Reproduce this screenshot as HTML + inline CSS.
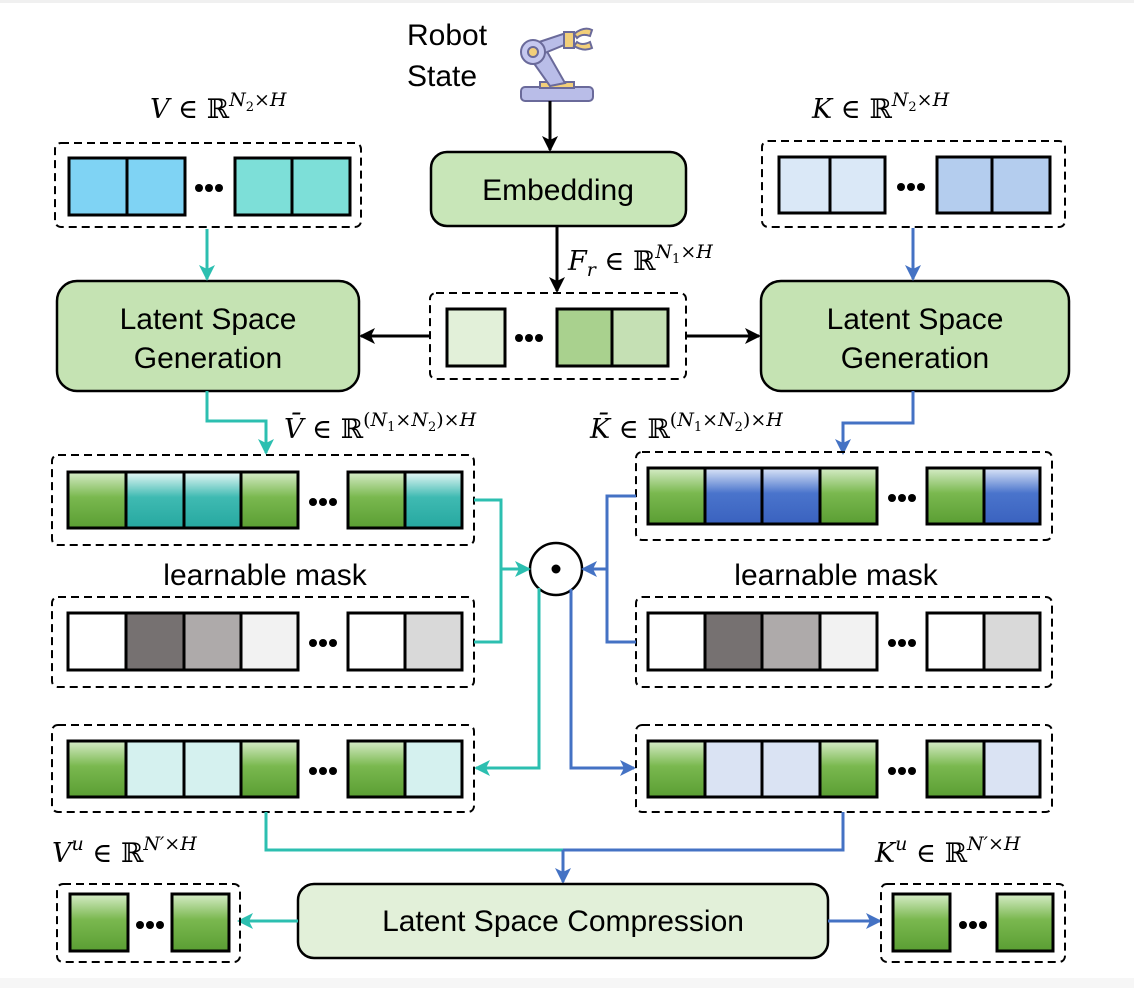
<!DOCTYPE html>
<html><head><meta charset="utf-8"><style>
html,body{margin:0;padding:0;background:#fff;}
svg{display:block;}
.t{font-family:"Liberation Sans","DejaVu Sans",sans-serif;font-size:30px;fill:#000;}
.m{font-family:"DejaVu Serif","Liberation Serif",serif;font-size:27px;fill:#000;}
.c{stroke:#000;stroke-width:3;}
.d{fill:none;stroke:#000;stroke-width:2;stroke-dasharray:8 5;}
</style></head><body>
<svg width="1134" height="988" viewBox="0 0 1134 988" xmlns="http://www.w3.org/2000/svg">
<defs>
<linearGradient id="g" x1="0" y1="0" x2="0" y2="1"><stop offset="0" stop-color="#d6ecc8"/><stop offset="0.45" stop-color="#7ab84f"/><stop offset="1" stop-color="#5a9e33"/></linearGradient>
<linearGradient id="tq" x1="0" y1="0" x2="0" y2="1"><stop offset="0" stop-color="#e8f8f6"/><stop offset="0.45" stop-color="#3fbab2"/><stop offset="1" stop-color="#26a8a0"/></linearGradient>
<linearGradient id="bl" x1="0" y1="0" x2="0" y2="1"><stop offset="0" stop-color="#dce6f8"/><stop offset="0.45" stop-color="#4a74cc"/><stop offset="1" stop-color="#3a62bf"/></linearGradient>
<marker id="at" markerWidth="16" markerHeight="16" refX="14" refY="8" orient="auto" markerUnits="userSpaceOnUse"><path d="M0,0 L16,8 L0,16 L4,8z" fill="#2cbfb0"/></marker>
<marker id="ab" markerWidth="16" markerHeight="16" refX="14" refY="8" orient="auto" markerUnits="userSpaceOnUse"><path d="M0,0 L16,8 L0,16 L4,8z" fill="#4472c4"/></marker>
<marker id="ak2" markerWidth="16" markerHeight="16" refX="14" refY="8" orient="auto" markerUnits="userSpaceOnUse"><path d="M0,0 L16,8 L0,16 L4,8z" fill="#000"/></marker>
</defs>
<rect x="0" y="0" width="1134" height="3" fill="#f0f0f0"/>
<rect x="0" y="978" width="1134" height="10" fill="#f6f6f6"/>

<!-- Robot -->
<text class="t" x="407" y="45">Robot</text>
<text class="t" x="407" y="86">State</text>
<g stroke="#6a6a9a" stroke-width="2">
<rect x="521" y="87" width="72" height="14" rx="4" fill="#b9bde8"/>
<rect x="540" y="82" width="34" height="6" fill="#f2cf7a"/>
<path d="M528,55 L545,48 L565,83 L550,86z" fill="#b9bde8"/>
<path d="M530,45 L566,33 L569,43 L535,57z" fill="#b9bde8"/>
<circle cx="533" cy="52" r="12" fill="#c5c8ef"/>
<circle cx="533" cy="52" r="5" fill="#f2cf7a"/>
<rect x="564" y="32" width="10" height="16" fill="#f2cf7a"/>
<path d="M574,34 Q584,26 592,30 L590,36 Q582,33 577,38z M574,46 Q584,52 592,48 L590,42 Q582,46 577,42z" fill="#f2cf7a"/>
</g>
<line x1="550" y1="101" x2="550" y2="150" stroke="#000" stroke-width="3" marker-end="url(#ak2)"/>

<!-- Embedding -->
<rect x="431" y="152" width="255" height="74" rx="16" fill="#c8e6b8" stroke="#000" stroke-width="2.5"/>
<text class="t" x="558" y="200" text-anchor="middle" font-size="29">Embedding</text>
<line x1="557" y1="226" x2="557" y2="291" stroke="#000" stroke-width="3" marker-end="url(#ak2)"/>
<text class="m" x="568" y="270"><tspan font-style="italic">F</tspan><tspan font-style="italic" font-size="19" dy="6">r</tspan><tspan dy="-6"> ∈ ℝ</tspan><tspan font-size="19" dy="-12" font-style="italic">N</tspan><tspan font-size="13" dy="5">1</tspan><tspan font-size="19" dy="-5">×</tspan><tspan font-size="19" font-style="italic">H</tspan></text>

<!-- Fr box -->
<rect class="d" x="430" y="293" width="256" height="86" rx="6"/>
<rect class="c" x="447" y="309" width="58" height="57" fill="#e2f0d9"/>
<g fill="#000"><circle cx="519" cy="338" r="4"/><circle cx="529" cy="338" r="4"/><circle cx="539" cy="338" r="4"/></g>
<rect class="c" x="557" y="309" width="55" height="57" fill="#a9d18e"/>
<rect class="c" x="612" y="309" width="56" height="57" fill="#c5e0b4"/>
<line x1="430" y1="336" x2="361" y2="336" stroke="#000" stroke-width="3" marker-end="url(#ak2)"/>
<line x1="686" y1="336" x2="759" y2="336" stroke="#000" stroke-width="3" marker-end="url(#ak2)"/>

<!-- LSG boxes -->
<rect x="57" y="281" width="302" height="110" rx="20" fill="#c5e3b3" stroke="#000" stroke-width="2.5"/>
<text class="t" x="208" y="329" text-anchor="middle">Latent Space</text>
<text class="t" x="208" y="368" text-anchor="middle">Generation</text>
<rect x="761" y="281" width="308" height="110" rx="20" fill="#c5e3b3" stroke="#000" stroke-width="2.5"/>
<text class="t" x="915" y="329" text-anchor="middle">Latent Space</text>
<text class="t" x="915" y="368" text-anchor="middle">Generation</text>

<!-- V -->
<text class="m" x="150" y="118"><tspan font-style="italic">V</tspan> ∈ ℝ<tspan font-size="19" dy="-12" font-style="italic">N</tspan><tspan font-size="13" dy="5">2</tspan><tspan font-size="19" dy="-5">×</tspan><tspan font-size="19" font-style="italic">H</tspan></text>
<rect class="d" x="55" y="143" width="306" height="84" rx="6"/>
<rect class="c" x="69" y="158" width="58" height="57" fill="#7fd3f4"/>
<rect class="c" x="127" y="158" width="58" height="57" fill="#7fd3f4"/>
<g fill="#000"><circle cx="199" cy="188" r="4"/><circle cx="209" cy="188" r="4"/><circle cx="219" cy="188" r="4"/></g>
<rect class="c" x="235" y="158" width="57" height="57" fill="#7ddfd8"/>
<rect class="c" x="292" y="158" width="58" height="57" fill="#7ddfd8"/>
<line x1="207" y1="229" x2="207" y2="279" stroke="#2cbfb0" stroke-width="3" marker-end="url(#at)"/>

<!-- K -->
<text class="m" x="812" y="118"><tspan font-style="italic">K</tspan> ∈ ℝ<tspan font-size="19" dy="-12" font-style="italic">N</tspan><tspan font-size="13" dy="5">2</tspan><tspan font-size="19" dy="-5">×</tspan><tspan font-size="19" font-style="italic">H</tspan></text>
<rect class="d" x="762" y="141" width="303" height="86" rx="6"/>
<rect class="c" x="779" y="157" width="51" height="56" fill="#dae8f7"/>
<rect class="c" x="830" y="157" width="55" height="56" fill="#dae8f7"/>
<g fill="#000"><circle cx="901" cy="187" r="4"/><circle cx="911" cy="187" r="4"/><circle cx="921" cy="187" r="4"/></g>
<rect class="c" x="937" y="157" width="55" height="56" fill="#b4cdee"/>
<rect class="c" x="992" y="157" width="58" height="56" fill="#b4cdee"/>
<line x1="913" y1="228" x2="913" y2="279" stroke="#4472c4" stroke-width="3" marker-end="url(#ab)"/>

<!-- Vbar -->
<path d="M207,391 V421 H266 V453" fill="none" stroke="#2cbfb0" stroke-width="3" marker-end="url(#at)"/>
<text class="m" x="284" y="438"><tspan font-style="italic">V̄</tspan> ∈ ℝ<tspan font-size="19" dy="-12">(</tspan><tspan font-size="19" font-style="italic">N</tspan><tspan font-size="13" dy="5">1</tspan><tspan font-size="19" dy="-5">×</tspan><tspan font-size="19" font-style="italic">N</tspan><tspan font-size="13" dy="5">2</tspan><tspan font-size="19" dy="-5">)×</tspan><tspan font-size="19" font-style="italic">H</tspan></text>
<rect class="d" x="52" y="455" width="422" height="90" rx="6"/>
<rect class="c" x="68" y="472" width="58" height="56" fill="url(#g)"/>
<rect class="c" x="126" y="472" width="58" height="56" fill="url(#tq)"/>
<rect class="c" x="184" y="472" width="57" height="56" fill="url(#tq)"/>
<rect class="c" x="241" y="472" width="57" height="56" fill="url(#g)"/>
<g fill="#000"><circle cx="313" cy="502" r="4"/><circle cx="323" cy="502" r="4"/><circle cx="333" cy="502" r="4"/></g>
<rect class="c" x="348" y="472" width="57" height="56" fill="url(#g)"/>
<rect class="c" x="405" y="472" width="57" height="56" fill="url(#tq)"/>

<!-- Kbar -->
<path d="M913,391 V423 H843 V453" fill="none" stroke="#4472c4" stroke-width="3" marker-end="url(#ab)"/>
<text class="m" x="590" y="438"><tspan font-style="italic">K̄</tspan> ∈ ℝ<tspan font-size="19" dy="-12">(</tspan><tspan font-size="19" font-style="italic">N</tspan><tspan font-size="13" dy="5">1</tspan><tspan font-size="19" dy="-5">×</tspan><tspan font-size="19" font-style="italic">N</tspan><tspan font-size="13" dy="5">2</tspan><tspan font-size="19" dy="-5">)×</tspan><tspan font-size="19" font-style="italic">H</tspan></text>
<rect class="d" x="636" y="452" width="416" height="88" rx="6"/>
<rect class="c" x="648" y="468" width="57" height="56" fill="url(#g)"/>
<rect class="c" x="705" y="468" width="57" height="56" fill="url(#bl)"/>
<rect class="c" x="762" y="468" width="58" height="56" fill="url(#bl)"/>
<rect class="c" x="820" y="468" width="57" height="56" fill="url(#g)"/>
<g fill="#000"><circle cx="892" cy="498" r="4"/><circle cx="902" cy="498" r="4"/><circle cx="912" cy="498" r="4"/></g>
<rect class="c" x="927" y="468" width="57" height="56" fill="url(#g)"/>
<rect class="c" x="984" y="468" width="56" height="56" fill="url(#bl)"/>

<!-- masks -->
<text class="t" x="265" y="585" text-anchor="middle">learnable mask</text>
<text class="t" x="836" y="585" text-anchor="middle">learnable mask</text>
<rect class="d" x="52" y="597" width="422" height="90" rx="6"/>
<rect class="c" x="68" y="613" width="58" height="57" fill="#ffffff"/>
<rect class="c" x="126" y="613" width="58" height="57" fill="#767171"/>
<rect class="c" x="184" y="613" width="57" height="57" fill="#aeaaaa"/>
<rect class="c" x="241" y="613" width="57" height="57" fill="#f2f2f2"/>
<g fill="#000"><circle cx="313" cy="643" r="4"/><circle cx="323" cy="643" r="4"/><circle cx="333" cy="643" r="4"/></g>
<rect class="c" x="348" y="613" width="57" height="57" fill="#ffffff"/>
<rect class="c" x="405" y="613" width="57" height="57" fill="#d9d9d9"/>
<rect class="d" x="636" y="597" width="416" height="90" rx="6"/>
<rect class="c" x="648" y="613" width="57" height="57" fill="#ffffff"/>
<rect class="c" x="705" y="613" width="57" height="57" fill="#767171"/>
<rect class="c" x="762" y="613" width="58" height="57" fill="#aeaaaa"/>
<rect class="c" x="820" y="613" width="57" height="57" fill="#f2f2f2"/>
<g fill="#000"><circle cx="892" cy="643" r="4"/><circle cx="902" cy="643" r="4"/><circle cx="912" cy="643" r="4"/></g>
<rect class="c" x="927" y="613" width="57" height="57" fill="#ffffff"/>
<rect class="c" x="984" y="613" width="56" height="57" fill="#d9d9d9"/>

<!-- odot -->
<circle cx="556" cy="569" r="26" fill="#fff" stroke="#000" stroke-width="2.5"/>
<circle cx="556" cy="569" r="4.5" fill="#000"/>
<path d="M474,500 H501 V642 H474" fill="none" stroke="#2cbfb0" stroke-width="3"/>
<line x1="501" y1="569" x2="529" y2="569" stroke="#2cbfb0" stroke-width="3" marker-end="url(#at)"/>
<path d="M636,496 H607 V642 H636" fill="none" stroke="#4472c4" stroke-width="3"/>
<line x1="607" y1="569" x2="583" y2="569" stroke="#4472c4" stroke-width="3" marker-end="url(#ab)"/>
<path d="M539,588 V768 H476" fill="none" stroke="#2cbfb0" stroke-width="3" marker-end="url(#at)"/>
<path d="M571,589 V768 H634" fill="none" stroke="#4472c4" stroke-width="3" marker-end="url(#ab)"/>

<!-- outputs -->
<rect class="d" x="52" y="725" width="422" height="87" rx="6"/>
<rect class="c" x="68" y="741" width="58" height="56" fill="url(#g)"/>
<rect class="c" x="126" y="741" width="58" height="56" fill="#d5f1ef"/>
<rect class="c" x="184" y="741" width="57" height="56" fill="#d5f1ef"/>
<rect class="c" x="241" y="741" width="57" height="56" fill="url(#g)"/>
<g fill="#000"><circle cx="313" cy="771" r="4"/><circle cx="323" cy="771" r="4"/><circle cx="333" cy="771" r="4"/></g>
<rect class="c" x="348" y="741" width="57" height="56" fill="url(#g)"/>
<rect class="c" x="405" y="741" width="57" height="56" fill="#d5f1ef"/>
<rect class="d" x="636" y="725" width="416" height="87" rx="6"/>
<rect class="c" x="648" y="741" width="57" height="56" fill="url(#g)"/>
<rect class="c" x="705" y="741" width="57" height="56" fill="#dae3f3"/>
<rect class="c" x="762" y="741" width="58" height="56" fill="#dae3f3"/>
<rect class="c" x="820" y="741" width="57" height="56" fill="url(#g)"/>
<g fill="#000"><circle cx="892" cy="771" r="4"/><circle cx="902" cy="771" r="4"/><circle cx="912" cy="771" r="4"/></g>
<rect class="c" x="927" y="741" width="57" height="56" fill="url(#g)"/>
<rect class="c" x="984" y="741" width="56" height="56" fill="#dae3f3"/>

<!-- merge -->
<path d="M266,812 V850 H563" fill="none" stroke="#2cbfb0" stroke-width="3"/>
<path d="M843,812 V850 H563" fill="none" stroke="#4472c4" stroke-width="3"/>
<line x1="563" y1="850" x2="563" y2="882" stroke="#4472c4" stroke-width="3" marker-end="url(#ab)"/>

<!-- compression -->
<rect x="298" y="884" width="530" height="74" rx="16" fill="#e2f0d9" stroke="#000" stroke-width="2.5"/>
<text class="t" x="563" y="931" text-anchor="middle">Latent Space Compression</text>
<line x1="298" y1="921" x2="239" y2="921" stroke="#2cbfb0" stroke-width="3" marker-end="url(#at)"/>
<line x1="828" y1="921" x2="880" y2="921" stroke="#4472c4" stroke-width="3" marker-end="url(#ab)"/>

<text class="m" x="52" y="862"><tspan font-style="italic">V</tspan><tspan font-size="19" dy="-12" font-style="italic">u</tspan><tspan dy="12"> ∈ ℝ</tspan><tspan font-size="19" dy="-12" font-style="italic">N′</tspan><tspan font-size="19">×</tspan><tspan font-size="19" font-style="italic">H</tspan></text>
<rect class="d" x="57" y="884" width="183" height="78" rx="6"/>
<rect class="c" x="70" y="894" width="58" height="57" fill="url(#g)"/>
<g fill="#000"><circle cx="140" cy="925" r="4"/><circle cx="150" cy="925" r="4"/><circle cx="160" cy="925" r="4"/></g>
<rect class="c" x="172" y="894" width="57" height="57" fill="url(#g)"/>

<text class="m" x="875" y="862"><tspan font-style="italic">K</tspan><tspan font-size="19" dy="-12" font-style="italic">u</tspan><tspan dy="12"> ∈ ℝ</tspan><tspan font-size="19" dy="-12" font-style="italic">N′</tspan><tspan font-size="19">×</tspan><tspan font-size="19" font-style="italic">H</tspan></text>
<rect class="d" x="881" y="884" width="184" height="78" rx="6"/>
<rect class="c" x="893" y="894" width="57" height="57" fill="url(#g)"/>
<g fill="#000"><circle cx="963" cy="925" r="4"/><circle cx="973" cy="925" r="4"/><circle cx="983" cy="925" r="4"/></g>
<rect class="c" x="997" y="894" width="56" height="57" fill="url(#g)"/>
</svg>
</body></html>
